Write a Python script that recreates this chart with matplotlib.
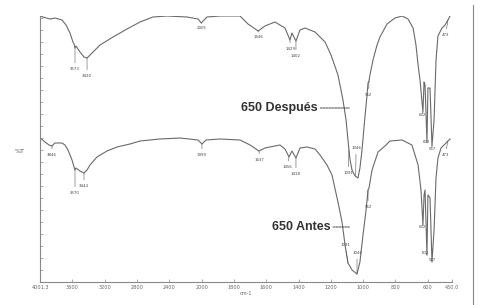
import numpy as np
import matplotlib
matplotlib.use("Agg")
import matplotlib.pyplot as plt
from matplotlib.lines import Line2D

# IR spectra (wavenumber cm-1, %T in chart units)
despues_wn = [4001, 3964, 3877, 3816, 3729, 3679, 3630, 3593, 3580, 3568, 3556, 3506,
              3457, 3419, 3357, 3258, 3097, 2924, 2763, 2602, 2429, 2181, 2045, 2005,
              1967, 1886, 1762, 1713, 1650, 1608, 1546, 1484, 1453, 1441, 1416, 1391,
              1360, 1298, 1236, 1199, 1156, 1125, 1106, 1088, 1081, 1069, 1050, 1032,
              1020, 1007, 989, 976, 970, 964, 958, 939, 914, 896, 852, 803, 759, 722,
              691, 673, 660, 648, 630, 623, 617, 605, 599, 586, 574, 561, 549, 537,
              512, 493, 475, 462]
despues_t = [133, 132.5, 131.5, 132, 131, 128.5, 124.5, 120, 119, 117, 118, 115,
             112.5, 112, 114.5, 118.5, 122.5, 126.5, 130, 132.5, 133, 132.5, 131.5, 129.5,
             132.5, 133, 133, 129, 125.5, 128, 130, 127, 121, 124.5, 120.5, 126,
             127, 125, 120, 113.5, 103.5, 91, 81, 66, 61, 56, 53, 52,
             57, 66, 82.5, 93.5, 99.5, 100.5, 103.5, 111, 118.5, 122.5, 129, 132, 133, 131.5,
             127, 118.5, 108.5, 101, 85, 100, 98.5, 70, 97, 97, 68, 81, 111, 123,
             127, 128.5, 131, 133]

antes_wn = [4001, 3939, 3890, 3853, 3816, 3729, 3692, 3655, 3605, 3580, 3568, 3556,
            3506, 3457, 3419, 3382, 3296, 3172, 3048, 2887, 2763, 2516, 2268, 2045,
            1998, 1973, 1886, 1762, 1700, 1645, 1608, 1515, 1484, 1459, 1441, 1416,
            1391, 1348, 1298, 1267, 1224, 1193, 1156, 1131, 1112, 1094, 1069, 1038,
            1020, 1001, 982, 976, 970, 964, 945, 908, 865, 834, 759, 698, 660, 642,
            630, 623, 617, 605, 599, 586, 574, 561, 549, 537, 518, 493, 475, 462]
antes_t = [72, 70, 68.5, 68, 69.5, 69.5, 68.5, 66, 61, 57.5, 56, 57,
           55.5, 54.5, 56, 58.5, 62.5, 65.5, 67.5, 69, 70.5, 71.5, 72, 71,
           69, 71, 71.5, 71, 68.5, 65.5, 67, 68.5, 66.5, 62.5, 65.5, 62,
           67, 67.5, 66.5, 63.5, 58.5, 53.5, 40, 30, 18.5, 9.5, 6, 4,
           10, 23.5, 36, 41, 46, 47, 56, 65, 68, 70.5, 71, 68.5, 58.5, 46,
           28.5, 43.5, 46, 13.5, 43.5, 42, 10, 26, 52, 62, 67, 69, 70.5, 71.5]

# peak labels: text, peak position, label position
despues_peaks = [("3573", 3568, 117, 3568, 106.5), ("3420", 3419, 112, 3419, 103),
                 ("2005", 2005, 129.5, 2005, 127), ("1646", 1650, 125.5, 1650, 122.5),
                 ("1429", 1453, 121, 1452, 116.5), ("1402", 1416, 120.5, 1416, 113),
                 ("1091", 1088, 66, 1092, 54.5), ("1046", 1046, 53, 1044, 67),
                 ("962", 964, 100.5, 966, 93.5), ("632", 630, 85, 636, 83.5),
                 ("602", 605, 70, 611, 70), ("567", 574, 68, 574, 66.5),
                 ("473", 475, 131, 490, 123.5)]
antes_peaks = [("3846", 3853, 68, 3853, 63.5), ("3570", 3568, 56, 3568, 44.5),
               ("3444", 3457, 54.5, 3457, 48), ("1999", 1998, 69, 1998, 63.5),
               ("1637", 1645, 65.5, 1640, 61), ("1456", 1459, 62.5, 1470, 57.5),
               ("1418", 1416, 62, 1416, 54), ("1091", 1094, 9.5, 1112, 18.5),
               ("1046", 1038, 4, 1038, 14.5), ("962", 970, 46, 970, 37.5),
               ("632", 630, 28.5, 636, 27.5), ("602", 605, 13.5, 617, 14.5),
               ("567", 574, 10, 574, 11), ("473", 475, 70.5, 493, 63.5)]

tick_vals = [4001.3, 3600, 3200, 2800, 2400, 2000, 1800, 1600, 1400, 1200, 1000, 800, 600, 450]
tick_labels = ["4001.3", "3600", "3200", "2800", "2400", "2000", "1800", "1600",
               "1400", "1200", "1000", "800", "600", "450.0"]


# scale doubles below 2000 cm-1, as on the spectrometer printout
def fwd(x):
    x = np.asarray(x, dtype=float)
    return np.where(x >= 2000, x, 2 * x - 2000)


def inv(u):
    u = np.asarray(u, dtype=float)
    return np.where(u >= 2000, u, (u + 2000) / 2)


fig = plt.figure(figsize=(4.78, 3.05), dpi=100)
ax = fig.add_axes([40 / 478, 23 / 305, 412 / 478, 266 / 305])
ax.set_xscale("function", functions=(fwd, inv))

line_col = "#6a6a6a"
ax.plot(despues_wn, despues_t, color=line_col, lw=0.8)
ax.plot(antes_wn, antes_t, color=line_col, lw=0.8)

for lab, x0, y0, x1, y1 in despues_peaks + antes_peaks:
    ax.annotate(lab, xy=(x0, y0), xytext=(x1, y1), fontsize=2.8, color="#444",
                ha="center", va="center",
                arrowprops=dict(arrowstyle="-", color="#555", lw=0.4, shrinkA=1, shrinkB=0))

ax.annotate("650 Después", xy=(1085, 87), xytext=(1520, 87), fontsize=9,
            fontweight="bold", color="#333", ha="center", va="center",
            family="Liberation Sans",
            arrowprops=dict(arrowstyle="-", color="#444", lw=0.7, linestyle=(0, (2, 1)),
                            shrinkA=0, shrinkB=0))
ax.annotate("650 Antes", xy=(1085, 27.5), xytext=(1385, 27.5), fontsize=9,
            fontweight="bold", color="#333", ha="center", va="center",
            family="Liberation Sans",
            arrowprops=dict(arrowstyle="-", color="#444", lw=0.7, linestyle=(0, (2, 1)),
                            shrinkA=0, shrinkB=0))

ax.set_xlim(4001.3, 450)
ax.set_ylim(0, 133)
ax.set_xticks(tick_vals)
ax.set_xticklabels(tick_labels)
ax.set_yticks(np.arange(0, 133, 6))
ax.set_yticklabels([])
ax.minorticks_off()
ax.tick_params(axis="x", direction="in", length=2, width=0.5, colors="#888",
               labelsize=3.6, labelcolor="#666", pad=2)
ax.tick_params(axis="y", direction="in", length=2, width=0.5, colors="#888")
for side in ["top", "right"]:
    ax.spines[side].set_visible(False)
for side in ["left", "bottom"]:
    ax.spines[side].set_color("#888")
    ax.spines[side].set_linewidth(0.8)

ax.set_xlabel("cm-1", fontsize=3.6, color="#666", labelpad=1)
ax.text(-0.05, 0.49, "%T", transform=ax.transAxes, fontsize=4.5, color="#555",
        ha="center", va="center")

# edge of the scanned page on the right
fig.add_artist(Line2D([473 / 478, 473 / 478], [0, 1 - 5 / 305], transform=fig.transFigure,
                      color="#888", lw=0.8))

fig.savefig("out.png", dpi=100)
